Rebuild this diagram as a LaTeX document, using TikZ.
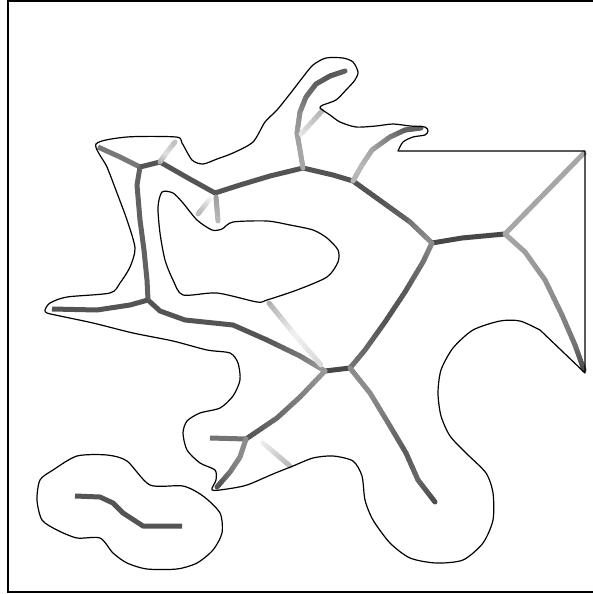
\documentclass[tikz,border=0pt]{standalone}
\usetikzlibrary{calc}
\newcommand{\gseg}[4]{\foreach \k in {0,...,7}{%
  \pgfmathsetmacro{\ta}{\k/8}\pgfmathsetmacro{\tb}{(\k+1)/8}%
  \pgfmathtruncatemacro{\cc}{#3+(#4-#3)*(\k+0.5)/8}%
  \draw[gsk,black!\cc] ($#1!\ta!#2$) -- ($#1!\tb!#2$);}}
\begin{document}
\begin{tikzpicture}[x=1pt,y=-1pt,
  outl/.style={line width=1.2pt,line join=round},
  skel/.style={line width=5pt,line join=round,line cap=butt},
  gsk/.style={line width=5pt,line cap=round}]
\useasboundingbox (0,0) rectangle (593,594);
\clip (0,0) rectangle (593,594);
\fill[white] (0,0) rectangle (593,594);
% frame
\draw[line width=2pt] (600,0.8) -- (8.2,0.8) -- (8.2,592.3) -- (600,592.3);

% ---------------- skeleton ----------------
\coordinate (A) at (98,147);
\coordinate (B) at (140,167);
\coordinate (C) at (160,162);
\coordinate (D) at (215,193);
\coordinate (K) at (303,168);
\coordinate (J) at (353,181);
\coordinate (H) at (432,243);
\coordinate (I) at (505,234);
\coordinate (G) at (350,368);
\coordinate (F) at (325,371);
\coordinate (E) at (148,300);
\coordinate (L) at (246,439);

\draw[skel,black!53] (A) -- (120,157) -- (B);
\draw[skel,black!67] (B) -- (C) -- (188,178) -- (D) -- (240,185) -- (270,176) -- (K) -- (333,175) -- (J);
\gseg{(J)}{(385,204)}{67}{67}
\gseg{(385,204)}{(410,222)}{67}{60}
\gseg{(410,222)}{(H)}{55}{45}
\draw[skel,black!72] (H) -- (462,238) -- (I);
\draw[skel,black!35] (I) -- (585,152);
\gseg{(I)}{(525,252)}{35}{38}
\gseg{(525,252)}{(545,280)}{38}{42}
\gseg{(545,280)}{(562,315)}{42}{48}
\gseg{(562,315)}{(575,345)}{48}{55}
\gseg{(575,345)}{(584,370)}{55}{70}
% H-G
\gseg{(H)}{(423,262)}{45}{55}
\gseg{(423,262)}{(405,292)}{55}{65}
\gseg{(405,292)}{(385,322)}{65}{68}
\gseg{(385,322)}{(365,350)}{68}{60}
\gseg{(365,350)}{(G)}{60}{55}
\draw[skel,black!72] (G) -- (F);
% E-F
\draw[skel,black!67] (E) -- (160,311) -- (185,320) -- (233,325) -- (267,340);
\gseg{(267,340)}{(300,356)}{67}{55}
\gseg{(300,356)}{(F)}{55}{40}
% B-E and left arm
\draw[skel,black!62] (B) -- (137,185) -- (140,220) -- (144,250) -- (147,280) -- (E);
\draw[skel,black!67] (E) -- (130,305) -- (97,310) -- (52,309);
% F-L
\gseg{(F)}{(300,397)}{40}{50}
\gseg{(300,397)}{(277,418)}{50}{58}
\gseg{(277,418)}{(L)}{58}{67}
\draw[skel,black!55] (L) -- (210,438);
\gseg{(L)}{(240,457)}{45}{45}
\gseg{(240,457)}{(230,472)}{45}{52}
\gseg{(230,472)}{(217,487)}{52}{68}
% G-tip
\gseg{(G)}{(370,393)}{45}{45}
\gseg{(370,393)}{(390,426)}{45}{55}
\gseg{(390,426)}{(406,453)}{55}{65}
\gseg{(406,453)}{(418,480)}{65}{60}
\gseg{(418,480)}{(435,502)}{60}{70}
% K-up
\gseg{(K)}{(300,150)}{35}{35}
\gseg{(300,150)}{(297,133)}{35}{38}
\gseg{(297,133)}{(300,112)}{38}{45}
\gseg{(300,112)}{(306,97)}{45}{55}
\gseg{(306,97)}{(316,84)}{55}{62}
\gseg{(316,84)}{(330,76)}{62}{67}
\gseg{(330,76)}{(345,71)}{67}{62}
% J-finger
\gseg{(J)}{(362,165)}{30}{28}
\gseg{(362,165)}{(372,150)}{28}{35}
\gseg{(372,150)}{(390,137)}{35}{50}
\gseg{(390,137)}{(405,130)}{50}{62}
\gseg{(405,130)}{(421,128)}{62}{62}
% faded branches
\gseg{(C)}{(167,152)}{35}{12}
\gseg{(167,152)}{(175,142)}{12}{25}
\gseg{(216,197)}{(218,221)}{40}{28}
\gseg{(210,199)}{(198,214)}{4}{28}
\gseg{(301,134)}{(322,111)}{10}{30}
\gseg{(269,303)}{(295,335)}{33}{6}
\gseg{(295,335)}{(321,365)}{6}{15}
\gseg{(263,443)}{(290,466)}{6}{28}
% blob skeleton
\draw[skel,black!67] (75,496) -- (100,497) -- (113,503) -- (123,513) -- (143,526) -- (160,526) -- (182,526);

% ---------------- outlines ----------------
\draw[outl] plot[smooth,tension=0.45] coordinates {
 (398,151) (403,142) (413,137) (425,135) (428,131) (425,127) (410,126) (393,124)
 (376,126) (356,127) (340,122) (330,115) (320,108) (323,105) (336,100) (346,90)
 (355,80) (358,72) (353,62) (343,58) (326,58) (313,65) (303,77) (293,90) (277,110)
 (265,122) (253,142) (233,153) (217,159) (203,164) (192,160) (182,143) (176,137)
 (127,137) (96,144) (107,167) (117,193) (127,220) (135,248) (130,267) (120,283)
 (110,293) (67,297) (50,303) (45,310) (47,313) (60,316) (93,323) (133,333)
 (173,341) (207,350) (230,353) (238,363) (240,380) (233,396) (220,408) (200,413)
 (187,421) (183,433) (187,450) (200,463) (215,470) (216,480) (212,490) (227,489)
 (247,485) (273,474) (293,466) (313,458) (333,456) (353,461) (362,476) (365,500)
 (373,520) (390,543) (410,558) (436,563) (463,560) (483,543) (493,520) (493,493)
 (486,473) (466,453) (450,436) (441,416) (438,393) (441,370) (453,348) (473,330)
 (500,321) (520,321) (540,330)} -- (585,373) -- (585,151) -- cycle;
% hole
\draw[outl] plot[smooth cycle,tension=0.45] coordinates {
 (162,192) (173,193) (183,203) (197,220) (212,230) (222,229) (233,222) (267,221)
 (290,225) (313,230) (327,238) (338,250) (338,262) (327,277) (297,290) (267,300)
 (257,302) (217,293) (183,295) (173,280) (165,260) (160,233) (158,207)};
% blob
\draw[outl] plot[smooth cycle,tension=0.45] coordinates {
 (37,500) (40,480) (53,470) (77,456) (107,455) (127,461) (150,485) (183,486)
 (203,496) (220,513) (222,533) (213,550) (197,563) (177,569) (147,569) (127,563)
 (113,553) (100,538) (77,538) (57,530) (42,520)};
\end{tikzpicture}
\end{document}
